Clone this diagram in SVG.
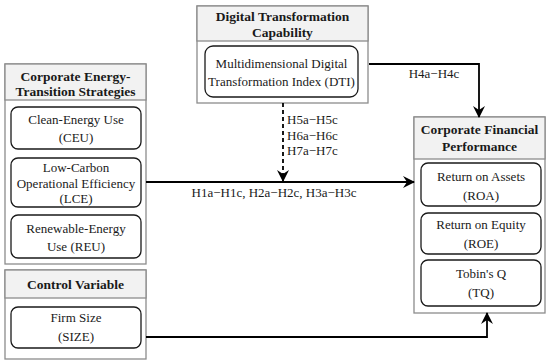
<svg xmlns="http://www.w3.org/2000/svg" width="550" height="364" viewBox="0 0 550 364">
<defs>
<marker id="ah" viewBox="0 0 12 12" refX="11" refY="6" markerWidth="12" markerHeight="12" markerUnits="userSpaceOnUse" orient="auto">
<path d="M0,0 L12,6 L0,12 L4,6 z" fill="#000"/>
</marker>
<style>
.outer{fill:#fff;stroke:#8c8c8c;stroke-width:1.3}
.head{fill:#f2f2f2;stroke:#8c8c8c;stroke-width:1.3}
.inner{fill:#fff;stroke:#1a1a1a;stroke-width:1.3}
text{font-family:'Liberation Serif','Times New Roman','DejaVu Serif',serif}
.h{font-weight:bold;font-size:13.5px;fill:#1a1a1a;text-anchor:middle}
.t{font-size:13px;fill:#1a1a1a;text-anchor:middle}
.l{font-size:13px;fill:#1a1a1a}
.c{fill:none;stroke:#000;stroke-width:1.8}
.d{fill:none;stroke:#000;stroke-width:1.8;stroke-dasharray:4 3}
</style>
</defs>

<g id="strategies" font-family="Liberation Serif, serif">
<rect class="outer" x="5" y="64" width="141" height="200"/>
<rect class="head" x="5" y="64" width="141" height="36"/>
<text class="h" x="75.5" y="81">Corporate Energy-</text>
<text class="h" x="75.5" y="96">Transition Strategies</text>
<g id="ceu">
<rect class="inner" x="11" y="107" width="130" height="42" rx="7"/>
<text class="t" x="76" y="124">Clean-Energy Use</text>
<text class="t" x="76" y="142">(CEU)</text>
</g>
<g id="lce">
<rect class="inner" x="11" y="158" width="130" height="49" rx="7"/>
<text class="t" x="76" y="172">Low-Carbon</text>
<text class="t" x="76" y="187.5">Operational Efficiency</text>
<text class="t" x="76" y="203">(LCE)</text>
</g>
<g id="reu">
<rect class="inner" x="11" y="215" width="130" height="43" rx="7"/>
<text class="t" x="76" y="233">Renewable-Energy</text>
<text class="t" x="76" y="251">Use (REU)</text>
</g>
</g>

<g id="control" font-family="Liberation Serif, serif">
<rect class="outer" x="5" y="270" width="141" height="89"/>
<rect class="head" x="5" y="270" width="141" height="28"/>
<text class="h" x="75.5" y="289">Control Variable</text>
<g id="size">
<rect class="inner" x="11" y="307" width="130" height="41" rx="7"/>
<text class="t" x="76" y="322">Firm Size</text>
<text class="t" x="76" y="341">(SIZE)</text>
</g>
</g>

<g id="digital" font-family="Liberation Serif, serif">
<rect class="outer" x="197" y="6" width="171" height="97"/>
<rect class="head" x="197" y="6" width="171" height="35"/>
<text class="h" x="282.5" y="21">Digital Transformation</text>
<text class="h" x="282.5" y="37">Capability</text>
<g id="dti">
<rect class="inner" x="205" y="46" width="153" height="51" rx="8"/>
<text class="t" x="281.5" y="68">Multidimensional Digital</text>
<text class="t" x="281.5" y="86">Transformation Index (DTI)</text>
</g>
</g>

<g id="performance" font-family="Liberation Serif, serif">
<rect class="outer" x="414" y="117" width="131" height="196"/>
<rect class="head" x="414" y="117" width="131" height="42"/>
<text class="h" x="479.5" y="134">Corporate Financial</text>
<text class="h" x="479.5" y="151">Performance</text>
<g id="roa">
<rect class="inner" x="421" y="163" width="120" height="43" rx="7"/>
<text class="t" x="481" y="181">Return on Assets</text>
<text class="t" x="481" y="200">(ROA)</text>
</g>
<g id="roe">
<rect class="inner" x="421" y="213" width="120" height="41" rx="7"/>
<text class="t" x="481" y="229">Return on Equity</text>
<text class="t" x="481" y="248">(ROE)</text>
</g>
<g id="tq">
<rect class="inner" x="421" y="260" width="120" height="46" rx="7"/>
<text class="t" x="481" y="278">Tobin's Q</text>
<text class="t" x="481" y="297">(TQ)</text>
</g>
</g>

<g id="connectors" font-family="Liberation Serif, serif">
<path class="c" d="M146,182 H414" marker-end="url(#ah)"/>
<path class="c" d="M369,64 H479 V117" marker-end="url(#ah)"/>
<path class="d" d="M283,103 V181" marker-end="url(#ah)"/>
<path class="c" d="M146,337 H487 V313" marker-end="url(#ah)"/>
<text class="l" x="274" y="197" text-anchor="middle">H1a−H1c, H2a−H2c, H3a−H3c</text>
<text class="l" x="434" y="78" text-anchor="middle">H4a−H4c</text>
<text class="l" x="287" y="124">H5a−H5c</text>
<text class="l" x="287" y="140">H6a−H6c</text>
<text class="l" x="287" y="155">H7a−H7c</text>
</g>
</svg>
